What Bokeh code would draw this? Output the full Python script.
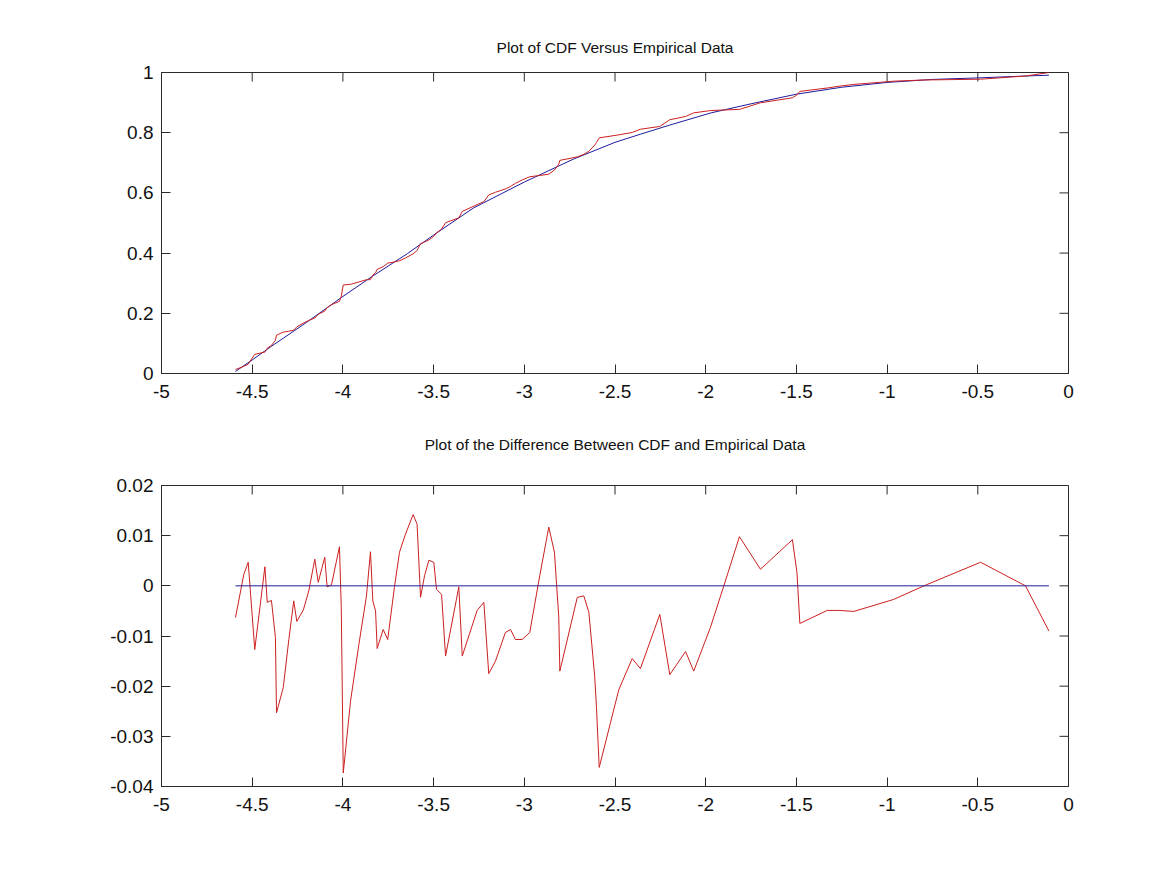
import math
from bokeh.plotting import figure
from bokeh.layouts import column
from bokeh.models import Range1d, FixedTicker
from bokeh.embed import file_html
from bokeh.resources import INLINE

# ---- data ----
# Smooth fitted CDF (blue line, top panel)
cdf_x = [-4.592, -4.5, -4.4, -4.2, -4.0, -3.83, -3.645, -3.5, -3.28, -3.0, -2.73, -2.5,
         -2.36, -2.2, -1.97, -1.75, -1.5, -1.25, -1.0, -0.75, -0.5, -0.25, -0.108]
cdf_y = [0.007, 0.045, 0.088, 0.170, 0.256, 0.326, 0.398, 0.460, 0.550, 0.636, 0.712, 0.768,
         0.795, 0.825, 0.866, 0.896, 0.928, 0.951, 0.967, 0.977, 0.982, 0.988, 0.991]

# Sample points of the empirical data
emp_x = [-4.592, -4.546, -4.522, -4.486, -4.430, -4.417, -4.394, -4.372, -4.366, -4.329,
         -4.298, -4.271, -4.254, -4.218, -4.188, -4.155, -4.136, -4.100, -4.087, -4.063,
         -4.019, -4.009, -3.998, -3.958, -3.912, -3.870, -3.848, -3.835, -3.820, -3.811,
         -3.778, -3.753, -3.716, -3.688, -3.655, -3.613, -3.591, -3.572, -3.550, -3.526,
         -3.499, -3.484, -3.456, -3.434, -3.361, -3.342, -3.260, -3.223, -3.196, -3.159,
         -3.104, -3.076, -3.049, -3.012, -2.970, -2.915, -2.865, -2.834, -2.810, -2.804,
         -2.708, -2.672, -2.644, -2.612, -2.602, -2.587, -2.479, -2.405, -2.360, -2.253,
         -2.198, -2.111, -2.066, -1.974, -1.900, -1.814, -1.698, -1.522, -1.497, -1.481,
         -1.330, -1.266, -1.183, -0.963, -0.797, -0.485, -0.237, -0.108]

# Empirical CDF values (red line, top panel)
emp_y = [0.0133, 0.0237, 0.0312, 0.0637, 0.0712, 0.0840, 0.0934, 0.1098, 0.1272, 0.1374,
         0.1405, 0.1439, 0.1550, 0.1674, 0.1762, 0.1841, 0.1968, 0.2073, 0.2188, 0.2287,
         0.2400, 0.2564, 0.2941, 0.2963, 0.3040, 0.3116, 0.3118, 0.3270, 0.3349, 0.3459,
         0.3549, 0.3667, 0.3706, 0.3745, 0.3838, 0.3975, 0.4088, 0.4315, 0.4367, 0.4438,
         0.4557, 0.4672, 0.4797, 0.5010, 0.5171, 0.5386, 0.5610, 0.5708, 0.5933, 0.6021,
         0.6133, 0.6213, 0.6316, 0.6430, 0.6537, 0.6579, 0.6622, 0.6759, 0.6956, 0.7081,
         0.7196, 0.7281, 0.7382, 0.7587, 0.7674, 0.7829, 0.7928, 0.8008, 0.8115, 0.8208,
         0.8431, 0.8539, 0.8659, 0.8735, 0.8755, 0.8774, 0.8994, 0.9160, 0.9256, 0.9372,
         0.9485, 0.9544, 0.9604, 0.9712, 0.9751, 0.9777, 0.9883, 1.0000]

# CDF minus empirical (red line, bottom panel)
diff_y = [-0.0063, 0.0023, 0.0047, -0.0127, 0.0038, -0.0033, -0.0029, -0.0103, -0.0253, -0.0203,
          -0.0107, -0.0030, -0.0071, -0.0048, -0.0010, 0.0053, 0.0007, 0.0057, -0.0002, 0.0002,
          0.0078, -0.0043, -0.0373, -0.0230, -0.0117, -0.0020, 0.0068, -0.0030, -0.0050, -0.0125,
          -0.0087, -0.0107, -0.0003, 0.0067, 0.0103, 0.0142, 0.0123, -0.0023, 0.0020, 0.0051,
          0.0047, -0.0007, -0.0017, -0.0140, -0.0002, -0.0140, -0.0049, -0.0033, -0.0175, -0.0150,
          -0.0093, -0.0087, -0.0107, -0.0107, -0.0093, 0.0020, 0.0117, 0.0067, -0.0062, -0.0170,
          -0.0023, -0.0020, -0.0053, -0.0180, -0.0243, -0.0362, -0.0207, -0.0145, -0.0165, -0.0057,
          -0.0177, -0.0131, -0.0170, -0.0083, 0.0000, 0.0098, 0.0033, 0.0092, 0.0027, -0.0075,
          -0.0049, -0.0049, -0.0051, -0.0027, 0.0000, 0.0047, 0.0000, -0.0090]

zero_x = [-4.592, -0.108]
zero_y = [0.0, 0.0]

x_ticks = [-5, -4.5, -4, -3.5, -3, -2.5, -2, -1.5, -1, -0.5, 0]
x_labels = ["-5", "-4.5", "-4", "-3.5", "-3", "-2.5", "-2", "-1.5", "-1", "-0.5", "0"]
y1_ticks = [0, 0.2, 0.4, 0.6, 0.8, 1]
y1_labels = ["0", "0.2", "0.4", "0.6", "0.8", "1"]
y2_ticks = [-0.04, -0.03, -0.02, -0.01, 0, 0.01, 0.02]
y2_labels = ["-0.04", "-0.03", "-0.02", "-0.01", "0", "0.01", "0.02"]

title1 = "Plot of CDF Versus Empirical Data"
title2 = "Plot of the Difference Between CDF and Empirical Data"

RED = "#cc2020"
BLUE = "#1c1c9c"
AXC = "#2a2a2a"
FONT = "Liberation Sans"


def style(p, yt, yl, ylo, yhi, title_standoff):
    p.xaxis.ticker = FixedTicker(ticks=x_ticks)
    p.xaxis.major_label_overrides = {t: l for t, l in zip(x_ticks, x_labels)}
    p.yaxis.ticker = FixedTicker(ticks=yt)
    p.yaxis.major_label_overrides = {t: l for t, l in zip(yt, yl)}
    for ax in [p.xaxis[0], p.yaxis[0]]:
        ax.major_tick_in = 9
        ax.major_tick_out = 0
        ax.minor_tick_line_color = None
        ax.major_tick_line_color = AXC
        ax.axis_line_color = AXC
        ax.major_label_text_font = FONT
        ax.major_label_text_font_size = "19px"
        ax.major_label_text_color = "#111111"
    p.xaxis.major_label_standoff = 11
    p.yaxis.major_label_standoff = 8
    # inward ticks on the top and right edges of the box
    p.ray(x=x_ticks, y=[yhi] * len(x_ticks), length=9, length_units="screen",
          angle=-math.pi / 2, line_color=AXC, line_width=1)
    p.ray(x=[0] * len(yt), y=yt, length=9, length_units="screen",
          angle=math.pi, line_color=AXC, line_width=1)
    p.grid.visible = False
    p.outline_line_color = AXC
    p.outline_line_alpha = 1
    p.title.text_font = FONT
    p.title.text_font_size = "15.5px"
    p.title.text_font_style = "normal"
    p.title.text_color = "#111111"
    p.title.align = "center"
    p.title.standoff = title_standoff


p1 = figure(width=1151, height=400, output_backend="svg", toolbar_location=None,
            title=title1, min_border_left=161, min_border_right=83,
            min_border_top=72, min_border_bottom=27,
            x_range=Range1d(-5, 0), y_range=Range1d(0, 1))
style(p1, y1_ticks, y1_labels, 0, 1, 34)
p1.line(cdf_x, cdf_y, line_color=BLUE, line_width=1)
p1.line(emp_x, emp_y, line_color=RED, line_width=1)

p2 = figure(width=1151, height=466, output_backend="svg", toolbar_location=None,
            title=title2, min_border_left=161, min_border_right=83,
            min_border_top=77, min_border_bottom=80,
            x_range=Range1d(-5, 0), y_range=Range1d(-0.04, 0.02))
style(p2, y2_ticks, y2_labels, -0.04, 0.02, 66)
p2.line(emp_x, diff_y, line_color=RED, line_width=1)
p2.line(zero_x, zero_y, line_color=BLUE, line_width=1)

layout = column(p1, p2, spacing=0)
open("out.html", "w").write(file_html(layout, INLINE))
